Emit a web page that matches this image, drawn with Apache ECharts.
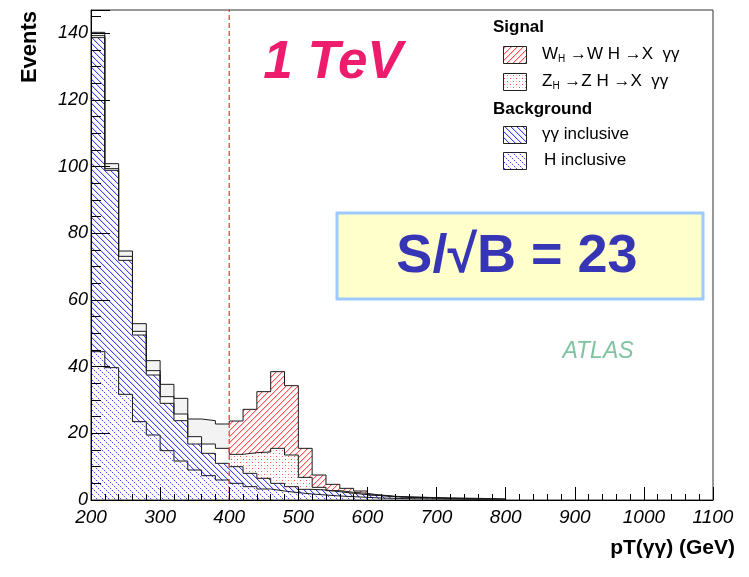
<!DOCTYPE html>
<html><head><meta charset="utf-8">
<script src="https://cdn.jsdelivr.net/npm/echarts@6/dist/echarts.min.js"></script>
<style>html,body{margin:0;padding:0;background:#fff}#c{width:749px;height:577px}</style>
</head><body><div id="c"></div>
<script>
// ---- data (20 GeV bins, left edges) ----
const binLeft = [200,220,240,260,280,300,320,340,360,380,400,420,440,460,480,500,520,540,560,580,600,620,640,660,680,700,720,740,760,780];
const binEndX = 800;
const hIncl  = [44.5,39.7,31.7,23.5,19.5,14.8,11.7,9.0,7.3,6.0,5.0,4.0,3.3,2.7,2.2,1.8,1.5,1.2,1.0,0.8,0.6,0.5,0.4,0.35,0.3,0.25,0.2,0.15,0.1,0.1];
const ggIncl = [94.2,59.2,40.2,26.0,18.0,14.2,12.1,7.8,6.7,5.0,5.0,4.0,3.2,2.3,1.8,1.4,1.5,1.3,1.0,0.8,0.7,0.5,0.4,0.35,0.3,0.25,0.25,0.25,0.2,0.1];
const zhSig  = [0.6,0.5,1.2,1.1,1.3,2.0,2.0,2.2,2.8,4.5,3.7,6.2,7.9,10.5,9.5,3.6,0.8,0.3,0.3,0.4,0.1,0.05,0.05,0.05,0.02,0.02,0.02,0.02,0.01,0.01];
const whSig  = [1.0,1.5,1.6,2.3,3.0,3.7,4.7,5.3,7.0,7.3,10.0,13.0,18.1,23.0,20.8,8.7,3.7,1.9,1.2,0.7,0.1,0.05,0.1,0.1,0.08,0.08,0.08,0.08,0.09,0.09];
const cutGeV = 400;
const xMin = 200, xMax = 1100, xStep = 100;
const yMin = 0, yMax = 147, yStep = 20;

// ---- fill patterns (crisp pixel tiles) ----
function makePattern(pixels, bg) {
  const s = 6;
  const c = document.createElement('canvas'); c.width = s; c.height = s;
  const g = c.getContext('2d');
  g.fillStyle = bg || '#fff'; g.fillRect(0, 0, s, s);
  pixels.forEach(p => { g.fillStyle = p[2]; g.fillRect(p[0], p[1], 1, 1); });
  return { image: c, repeat: 'repeat' };
}
const B = '#4444ff', BL = '#d2d2ff', R = '#ff5555', RL = '#ffc8c8';
const patBlueHatch = makePattern([[0,0,B],[1,1,B],[2,2,B],[3,3,B],[4,4,B],[5,5,B],[1,0,BL],[2,1,BL],[3,2,BL],[4,3,BL],[5,4,BL],[0,5,BL]]);
const patBlueDots  = makePattern([[0,0,B],[2,2,B],[4,4,B],[1,1,BL],[3,3,BL],[5,5,BL]]);
const patRedHatch  = makePattern([[0,5,R],[1,4,R],[2,3,R],[3,2,R],[4,1,R],[5,0,R],[1,5,RL],[2,4,RL],[3,3,RL],[4,2,RL],[5,1,RL],[0,0,RL]]);
const patRedDots   = makePattern([[0,0,R],[3,3,R],[3,0,RL],[0,3,RL]]);

// cumulative stack levels (built from the component arrays)
const layers = [hIncl, ggIncl, zhSig, whSig];
const cum = [];
layers.forEach((arr, k) => cum.push(arr.map((v, i) => v + (k ? cum[k - 1][i] : 0))));

function pts(arr, keep) {
  return binLeft.map((x, i) => [x, keep(x) ? arr[i] : 0]).concat([[binEndX, 0]]);
}
const all = () => true, low = x => x < cutGeV, high = x => x >= cutGeV;

function fillSeries(name, arr, keep, color, z) {
  return { name, type: 'line', step: 'end', data: pts(arr, keep),
    symbol: 'none', showSymbol: false, silent: true, z: z, lineStyle: { width: 0, opacity: 0 },
    areaStyle: { color: color, opacity: 1, origin: 'start' } };
}
function edgeSeries(name, arr) {
  return { name, type: 'line', step: 'end', data: pts(arr, all),
    symbol: 'none', showSymbol: false, silent: true, z: 10, lineStyle: { color: '#1a1a1a', width: 1 } };
}

const series = [
  fillSeries('WH low', cum[3], low, '#f3f3f3', 2),
  fillSeries('WH → γγ', cum[3], high, patRedHatch, 2),
  fillSeries('ZH low', cum[2], low, '#ffffff', 3),
  fillSeries('ZH → γγ', cum[2], high, patRedDots, 3),
  fillSeries('γγ inclusive', cum[1], all, patBlueHatch, 4),
  fillSeries('H inclusive', cum[0], all, patBlueDots, 5),
  edgeSeries('e1', cum[0]),
  edgeSeries('e2', cum[1]),
  edgeSeries('e3', cum[2]),
  edgeSeries('e4', cum[3]),
  { name: 'cut', type: 'line', data: [[cutGeV, yMin], [cutGeV, yMax]], symbol: 'none', showSymbol: false,
    silent: true, z: 12, itemStyle: { color: '#ff3c3c' },
    lineStyle: { color: '#ff3c3c', type: [5, 3], width: 1.3 } }
];

const font = '"Liberation Sans", Arial, Helvetica, sans-serif';
const legendItems = [
  { y: 46, pat: patRedHatch, label: '{a|W}{s|H}{a| →W H →X  γγ}' },
  { y: 73, pat: patRedDots,  label: '{a|Z}{s|H}{a| →Z H →X  γγ}' },
  { y: 126, pat: patBlueHatch, label: '{a|γγ inclusive}' },
  { y: 152, pat: patBlueDots,  label: '{a|H inclusive}' }
];
const graphic = [];
graphic.push({ type: 'text', x: 493, y: 27, z: 20, style: { text: 'Signal', verticalAlign: 'middle', align: 'left', font: 'bold 17px ' + font, fill: '#000' } });
graphic.push({ type: 'text', x: 493, y: 109, z: 20, style: { text: 'Background', verticalAlign: 'middle', align: 'left', font: 'bold 17px ' + font, fill: '#000' } });
legendItems.forEach((it, i) => {
  graphic.push({ type: 'rect', shape: { x: 503.5, y: it.y + 0.5, width: 23, height: 17 },
    style: { fill: it.pat, stroke: '#222', lineWidth: 1 }, z: 20 });
  graphic.push({ type: 'text', x: i === 3 ? 544 : 542, y: it.y + 8, z: 20,
    style: { text: it.label, verticalAlign: 'middle', align: 'left',
      rich: { a: { fontSize: 17, fontFamily: font, fill: '#000' },
              s: { fontSize: 10, fontFamily: font, fill: '#000', padding: [10, 0, 0, 0] } } } });
});
graphic.push({ type: 'text', x: 333, y: 63, z: 20, style: { text: '1 TeV', align: 'center', verticalAlign: 'middle',
  font: 'italic bold 53px ' + font, fill: '#ee1c6c' } });
graphic.push({ type: 'rect', z: 20, shape: { x: 337, y: 213, width: 366, height: 86 },
  style: { fill: '#ffffcc', stroke: '#9ecbff', lineWidth: 3 } });
graphic.push({ type: 'text', x: 517, y: 257, z: 21, style: { text: 'S/√B = 23', align: 'center', verticalAlign: 'middle',
  font: 'bold 54px ' + font, fill: '#3535b5' } });
graphic.push({ type: 'text', x: 598, y: 352, z: 20, style: { text: 'ATLAS', align: 'center', verticalAlign: 'middle',
  font: 'italic 23px ' + font, fill: '#7fc3a0' } });
graphic.push({ type: 'text', x: 735, y: 548, z: 20, style: { text: 'pT(γγ) (GeV)', align: 'right', verticalAlign: 'middle',
  font: 'bold 21px ' + font, fill: '#000' } });
graphic.push({ type: 'text', x: 30, y: 47, rotation: Math.PI / 2, z: 20, style: { text: 'Events', align: 'center', verticalAlign: 'middle',
  font: 'bold 22px ' + font, fill: '#000' } });

const chart = echarts.init(document.getElementById('c'), null, { renderer: 'canvas' });
chart.setOption({
  animation: false,
  backgroundColor: '#fff',
  grid: { left: 91, right: 36, top: 10, bottom: 77, show: true, borderColor: '#333', borderWidth: 1, backgroundColor: 'transparent', z: 30 },
  xAxis: { type: 'value', min: xMin, max: xMax, interval: xStep, z: 30,
    axisLine: { show: true, onZero: false, lineStyle: { color: '#000', width: 1 } },
    axisTick: { show: true, inside: true, length: 13, lineStyle: { color: '#000' } },
    minorTick: { show: true, splitNumber: 5, length: 6, lineStyle: { color: '#000' } },
    splitLine: { show: false },
    axisLabel: { fontSize: 19, fontStyle: 'italic', fontFamily: font, color: '#000', margin: 8, formatter: v => String(v) } },
  yAxis: { type: 'value', min: yMin, max: yMax, interval: yStep, z: 30,
    axisLine: { show: true, lineStyle: { color: '#000', width: 1 } },
    axisTick: { show: true, inside: true, length: 19, lineStyle: { color: '#000' } },
    minorTick: { show: true, splitNumber: 4, length: 10, lineStyle: { color: '#000' } },
    splitLine: { show: false },
    axisLabel: { fontSize: 18, fontStyle: 'italic', fontFamily: font, color: '#000', margin: 3, showMaxLabel: false, formatter: v => String(v) } },
  series: series,
  graphic: graphic
});
</script></body></html>
